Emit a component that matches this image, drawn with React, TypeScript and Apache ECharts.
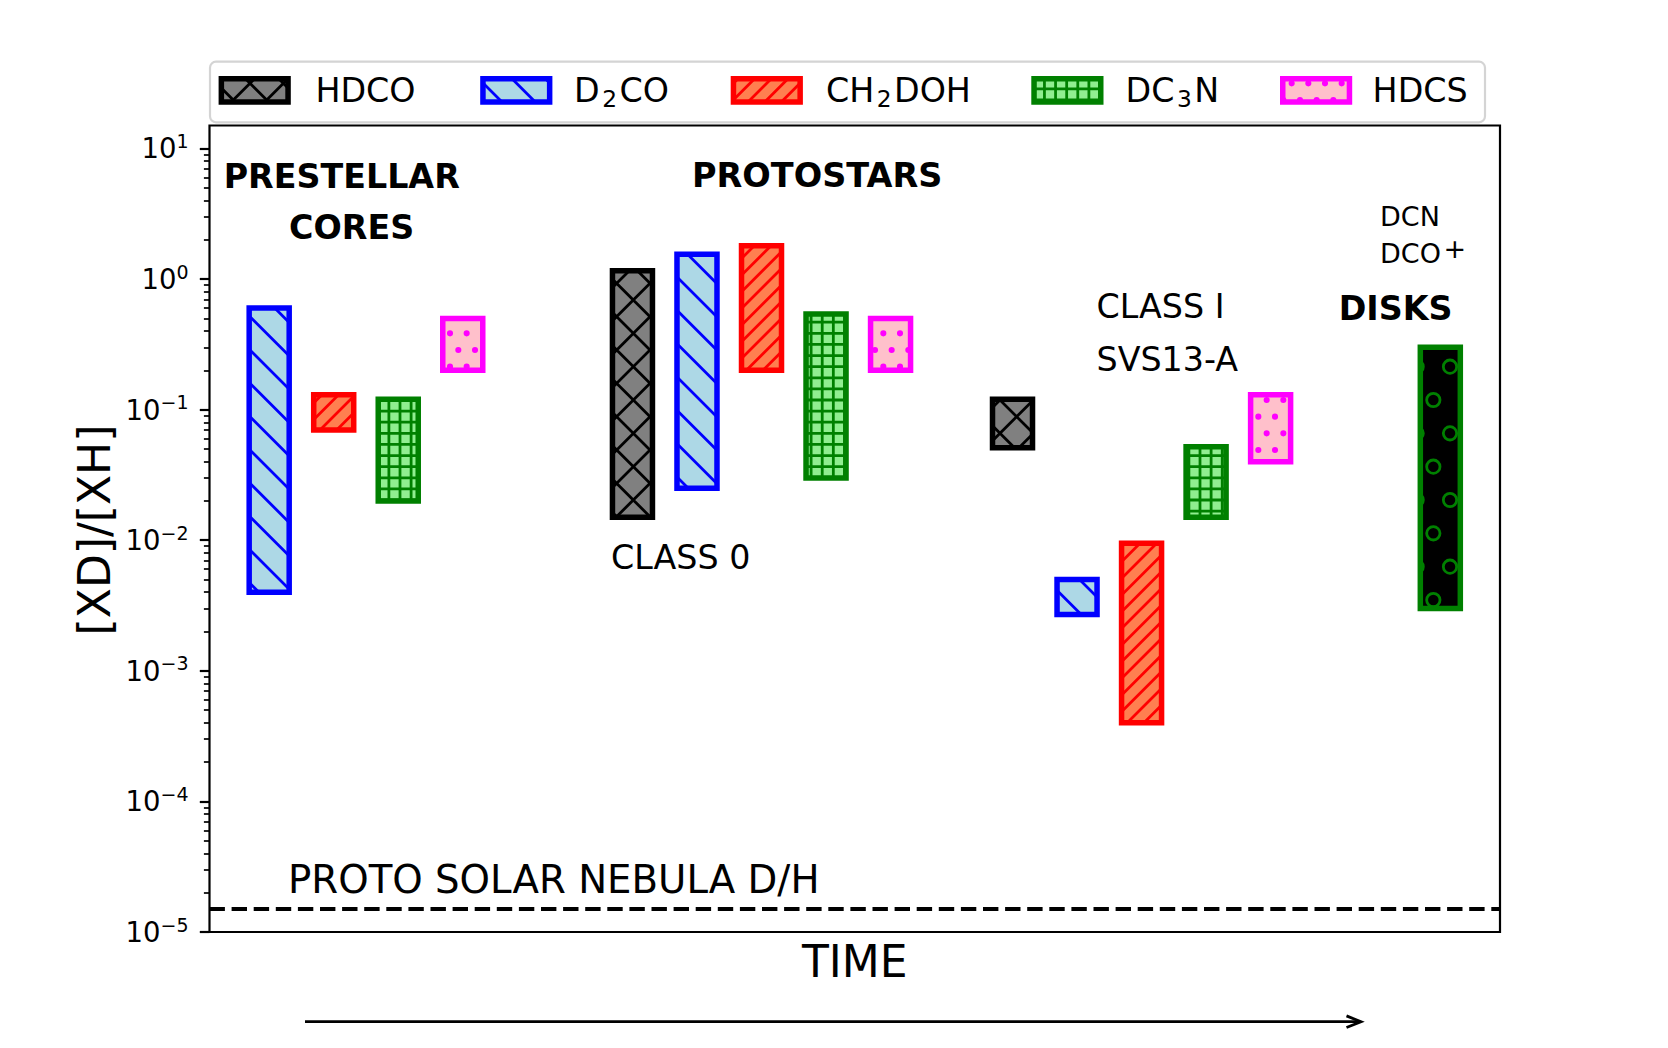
import React, { useEffect, useRef } from 'react';
import * as echarts from 'echarts';

// ---------------- data ----------------
const species = ['HDCO', 'D2CO', 'CH2DOH', 'DC3N', 'HDCS'];
const speciesRich = ['{a|HDCO}', '{a|D}{b|2}{a|CO}', '{a|CH}{b|2}{a|DOH}', '{a|DC}{b|3}{a|N}', '{a|HDCS}'];

// [XD]/[XH] ranges (low / high) per species; null = no measurement
const prestellarLow = [null, 0.004, 0.07, 0.02, 0.2];
const prestellarHigh = [null, 0.6, 0.13, 0.12, 0.5];
const class0Low = [0.015, 0.025, 0.2, 0.03, 0.2];
const class0High = [1.16, 1.55, 1.8, 0.54, 0.5];
const class1Low = [0.051, 0.0027, 0.0004, 0.015, 0.04];
const class1High = [0.12, 0.005, 0.0095, 0.052, 0.13];
const diskLow = [0.003];
const diskHigh = [0.3];
const protoSolarDH = 1.5e-5;

// x positions (time axis, arbitrary units) of the first species slot of each group
const groupX = [-0.075, 6.555, 12.445];
const diskX = 19.075;

const yTickExponents = [-5, -4, -3, -2, -1, 0, 1];
const Y_MIN = 1e-5;
const Y_MAX = 15;

// ---------------- styles ----------------
const FONT = 'DejaVu Sans';
const faceColors = ['#808080', '#add8e6', '#ff7f50', '#90ee90', '#ffc0cb', '#000000'];
const edgeColors = ['#000000', '#0000ff', '#ff0000', '#008000', '#ff00ff', '#008000'];
const hatches = ['x', '\\', '//', '+++', '..', 'o'];
const BAR_W = 0.62;
const EDGE_LW = 5.5;
const TILE = 200;
const HLW = 2.78;

function hatchUrl(hatch: string, face: string, edge: string) {
  const T = TILE;
  const cnt = (c: string) => hatch.split(c).length - 1;
  let s = `<svg xmlns="http://www.w3.org/2000/svg" width="${T}" height="${T}" viewBox="0 0 ${T} ${T}"><rect width="${T}" height="${T}" fill="${face}"/>`;
  const ne = (cnt('/') + cnt('x')) * 6;
  const se = (cnt('\\') + cnt('x')) * 6;
  const hv = cnt('+') * 6;
  let d = '';
  if (ne) {
    const sp = T / ne;
    for (let k = 0; k <= 2 * ne; k++) {
      const c = k * sp;
      d += `M-10,${c + 10}L${T + 10},${c - T - 10}`;
    }
  }
  if (se) {
    const sp = T / se;
    for (let k = -se; k <= se; k++) {
      const c = k * sp;
      d += `M-10,${c - 10}L${T + 10},${T + 10 + c}`;
    }
  }
  if (hv) {
    const sp = T / hv;
    for (let k = 0; k <= hv; k++) {
      const c = k * sp;
      d += `M0,${c}H${T}M${c},0V${T}`;
    }
  }
  if (d) s += `<path d="${d}" stroke="${edge}" stroke-width="${HLW}" fill="none"/>`;
  const shapes = (n: number, r: number, filled: boolean) => {
    const sp = T / n;
    let out = '';
    const circ = (cx: number, cy: number) => {
      out += `<circle cx="${cx}" cy="${cy}" r="${r}" fill="${filled ? edge : 'none'}" stroke="${edge}" stroke-width="${HLW}"/>`;
    };
    for (let i = 0; i <= n; i++) {
      const y = i * sp;
      if (i % 2 === 0) for (let j = 0; j <= n; j++) circ(j * sp, y);
      else for (let j = 0; j < n; j++) circ((j + 0.5) * sp, y);
    }
    return out;
  };
  const dots = cnt('.') * 6;
  const rings = cnt('o') * 6;
  if (dots) s += shapes(dots, (T / dots) * 0.1, true);
  if (rings) s += shapes(rings, (T / rings) * 0.2, false);
  s += '</svg>';
  return 'data:image/svg+xml;charset=utf-8,' + encodeURIComponent(s);
}

const patterns = hatches.map((h, i) => ({
  image: hatchUrl(h, faceColors[i], edgeColors[i]),
  repeat: 'repeat',
  imageWidth: TILE,
  imageHeight: TILE,
}));

function buildOption() {
  const barData: number[][] = [];
  const groups = [
    [prestellarLow, prestellarHigh],
    [class0Low, class0High],
    [class1Low, class1High],
  ];
  groups.forEach(([lo, hi], gi) => {
    species.forEach((_, si) => {
      if (lo[si] != null && hi[si] != null) {
        barData.push([groupX[gi] + si, Math.log10(lo[si] as number), Math.log10(hi[si] as number), si]);
      }
    });
  });
  diskLow.forEach((lo, i) => {
    barData.push([diskX, Math.log10(lo), Math.log10(diskHigh[i]), 5]);
  });

  const minorTickValues: number[] = [];
  for (const e of yTickExponents) {
    for (let m = 2; m <= 9; m++) {
      const v = m * Math.pow(10, e);
      if (v < Y_MAX) minorTickValues.push(Math.log10(v));
    }
  }

  const yMin = Math.log10(Y_MIN);
  const yMax = Math.log10(Y_MAX);

  const text = (t: string, x: number, y: number, size: number, bold = false, extra: any = {}) => ({
    type: 'text',
    x,
    y,
    silent: true,
    style: {
      text: t,
      fontFamily: FONT,
      fontSize: size,
      fontWeight: bold ? 'bold' : 'normal',
      fill: '#000',
      align: 'left',
      verticalAlign: 'middle',
      ...extra,
    },
  });

  const legendCenters = [254.7, 516.3, 766.8, 1067.4, 1316.1];
  const legendTextX = [315.4, 574.1, 825.9, 1125.5, 1372.6];
  const legendY = 90.3;
  const legendEls: any[] = [
    {
      type: 'rect',
      silent: true,
      shape: { x: 210, y: 61.7, width: 1275, height: 60.6, r: 6 },
      style: { fill: 'rgba(255,255,255,0.8)', stroke: '#d4d4d4', lineWidth: 2.2 },
    },
  ];
  species.forEach((_, i) => {
    legendEls.push({
      type: 'rect',
      silent: true,
      shape: { x: legendCenters[i] - 33.35, y: legendY - 11.65, width: 66.7, height: 23.3 },
      style: { fill: patterns[i], stroke: edgeColors[i], lineWidth: EDGE_LW },
    });
    legendEls.push({
      type: 'text',
      x: legendTextX[i],
      y: 90,
      silent: true,
      style: {
        text: speciesRich[i],
        align: 'left',
        verticalAlign: 'middle',
        rich: {
          a: { fontFamily: FONT, fontSize: 33.3, lineHeight: 40, fill: '#000' },
          b: {
            fontFamily: FONT,
            fontSize: 23.3,
            lineHeight: 20,
            verticalAlign: 'bottom',
            fill: '#000',
            padding: [0, 2.5, 0, 2.5],
          },
        },
      },
    });
  });

  return {
    animation: false,
    backgroundColor: '#ffffff',
    textStyle: { fontFamily: FONT },
    grid: {
      left: 209.5,
      top: 125.5,
      width: 1290.5,
      height: 806.5,
      show: true,
      borderColor: '#000',
      borderWidth: 2.2,
      backgroundColor: 'transparent',
      containLabel: false,
      outerBoundsMode: 'none',
    },
    xAxis: { type: 'value', min: 0, max: 20, show: false },
    yAxis: [
      {
        type: 'value',
        min: yMin,
        max: yMax,
        interval: 1,
        axisLine: { show: false },
        splitLine: { show: false },
        axisTick: {
          show: true,
          customValues: yTickExponents,
          length: 9.7,
          lineStyle: { color: '#000', width: 2.2 },
        },
        axisLabel: {
          show: true,
          customValues: yTickExponents,
          margin: 21,
          formatter: (v: number) => `{m|10}{s|${v < 0 ? '\u2212' + Math.abs(Math.round(v)) : Math.round(v)}}`,
          rich: {
            m: { fontFamily: FONT, fontSize: 27.5, lineHeight: 34, color: '#000' },
            s: { fontFamily: FONT, fontSize: 19, lineHeight: 20, verticalAlign: 'top', color: '#000' },
          },
        },
      },
      {
        type: 'value',
        min: yMin,
        max: yMax,
        interval: 1,
        position: 'left',
        axisLine: { show: false },
        splitLine: { show: false },
        axisLabel: { show: false },
        axisTick: {
          show: true,
          customValues: minorTickValues,
          length: 5.6,
          lineStyle: { color: '#000', width: 1.7 },
        },
      },
    ],
    series: [
      {
        type: 'custom',
        coordinateSystem: 'cartesian2d',
        xAxisIndex: 0,
        yAxisIndex: 0,
        encode: { x: 0, y: [1, 2] },
        data: barData,
        renderItem: (params: any, api: any) => {
          const x = api.value(0);
          const lo = api.value(1);
          const hi = api.value(2);
          const k = api.value(3);
          const tl = api.coord([x - BAR_W / 2, hi]);
          const br = api.coord([x + BAR_W / 2, lo]);
          return {
            type: 'rect',
            shape: { x: tl[0], y: tl[1], width: br[0] - tl[0], height: br[1] - tl[1] },
            style: { fill: patterns[k], stroke: edgeColors[k], lineWidth: EDGE_LW },
          };
        },
        markLine: {
          silent: true,
          symbol: ['none', 'none'],
          label: { show: false },
          lineStyle: { color: '#000', width: 4.2, type: [15.4, 6.7] },
          data: [{ yAxis: Math.log10(protoSolarDH) }],
        },
      },
    ],
    graphic: [
      ...legendEls,
      text('PRESTELLAR', 223.7, 176, 33.3, true),
      text('CORES', 289, 227, 33.3, true),
      text('PROTOSTARS', 692, 175.5, 33.5, true),
      text('DCN', 1380, 216.3, 27),
      text('DCO', 1380, 253.7, 27),
      text('+', 1443.5, 248.3, 27),
      text('DISKS', 1338.7, 308, 33.3, true),
      text('CLASS I', 1096.5, 306.7, 33.3),
      text('SVS13-A', 1096.5, 359.2, 33.3),
      text('CLASS 0', 611, 557.4, 33.3),
      text('PROTO SOLAR NEBULA D/H', 288, 879.2, 38.7),
      text('TIME', 854.75, 961.7, 44, false, { align: 'center' }),
      {
        type: 'text',
        x: 94,
        y: 530,
        rotation: Math.PI / 2,
        silent: true,
        style: {
          text: '[XD]/[XH]',
          fontFamily: FONT,
          fontSize: 44,
          fill: '#000',
          align: 'center',
          verticalAlign: 'middle',
        },
      },
      {
        type: 'polyline',
        silent: true,
        shape: { points: [[305, 1021.7], [1360, 1021.7]] },
        style: { stroke: '#000', lineWidth: 2.8, fill: 'none' },
      },
      {
        type: 'polyline',
        silent: true,
        shape: { points: [[1346.5, 1015.9], [1361, 1021.7], [1346.5, 1027.5]] },
        style: { stroke: '#000', lineWidth: 2.8, fill: 'none' },
      },
    ],
  };
}

export default function App() {
  const ref = useRef<HTMLDivElement>(null);
  useEffect(() => {
    if (!ref.current) return;
    const chart = echarts.init(ref.current, null, { renderer: 'svg', width: 1668, height: 1048 });
    chart.setOption(buildOption() as any);
    return () => chart.dispose();
  }, []);
  return (
    <div
      ref={ref}
      style={{ position: 'absolute', left: 0, top: 0, width: 1668, height: 1048, background: '#fff' }}
    />
  );
}
